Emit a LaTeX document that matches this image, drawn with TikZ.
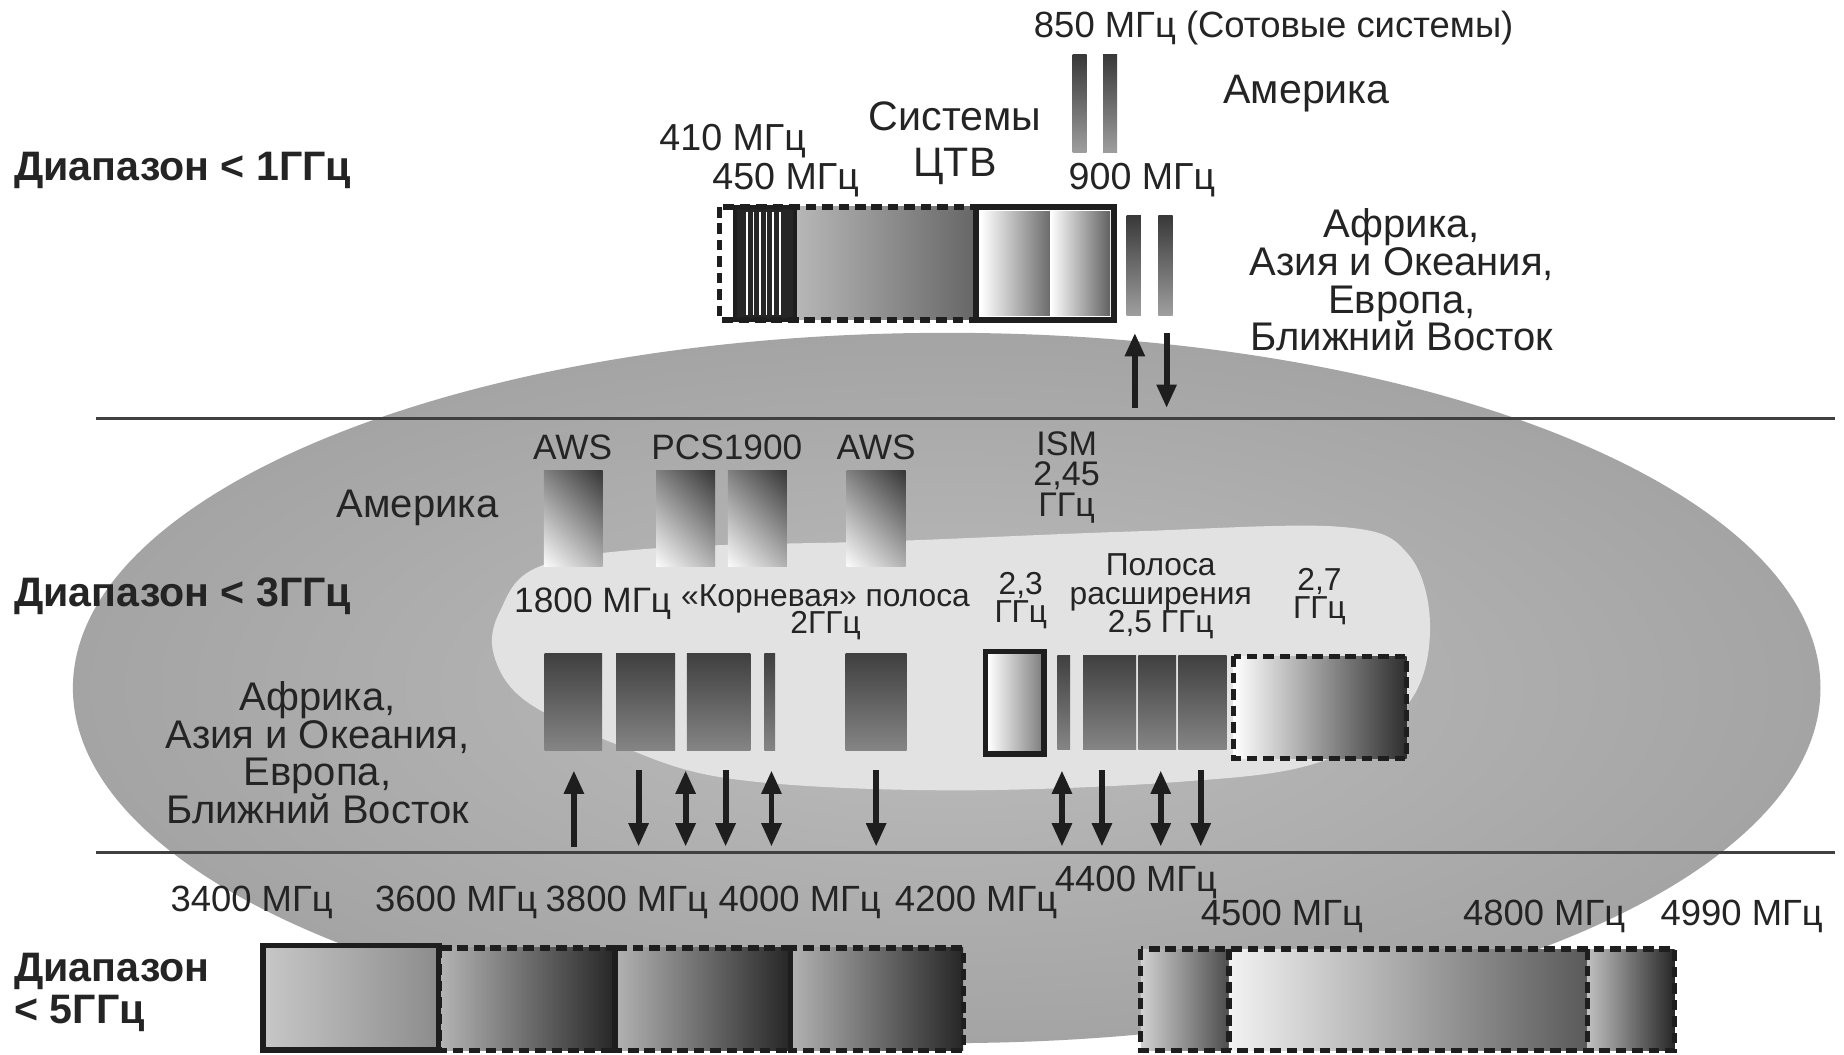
\documentclass[tikz,border=0pt]{standalone}
\usepackage{fontspec}
\setmainfont{Liberation Sans}
\usetikzlibrary{arrows.meta}
\definecolor{txt}{HTML}{242424}
\definecolor{ell}{HTML}{A4A4A4}
\definecolor{ellin}{HTML}{BDBDBD}
\definecolor{blob}{HTML}{E2E2E2}
\definecolor{edge}{HTML}{1E1E1E}
\newcommand\tightls{\lineskiplimit=-100pt\relax}
\tikzset{
  lbl/.style={text=txt, inner sep=0pt, align=center, font=\fontsize{34}{32}\selectfont\tightls},
  freq/.style={text=txt, inner sep=0pt, font=\fontsize{31}{31}\selectfont},
  mid/.style={text=txt, inner sep=0pt, align=center, font=\fontsize{30}{25}\selectfont\tightls},
  sml/.style={text=txt, inner sep=0pt, align=center, font=\fontsize{27}{24}\selectfont\tightls},
  ttl/.style={text=txt, inner sep=0pt, align=left, anchor=west, font=\fontsize{35}{36}\selectfont\bfseries\tightls},
  >={Triangle[width=16pt,length=20pt]},
  arr/.style={draw=edge, line width=5pt, ->},
  darr/.style={draw=edge, line width=5pt, <->},
  dbox/.style={draw=edge, line width=4.5pt, dash pattern=on 9pt off 5pt},
  sbox/.style={draw=edge, line width=5pt},
  afr/.style={top color=black!75, bottom color=black!48},
  vbar/.style={top color=black!78, bottom color=black!38},
  sep/.style={draw=black!75, line width=2.5pt},
}
\newcommand\amrbox[2]{%
  \begin{scope}
    \clip (#1-25,400) rectangle (#1+25,482);
    \shade[left color=white, right color=black!80, transform canvas={rotate around={45:(#1,#2)}}] (#1-48,#2-80) rectangle (#1+48,#2+80);
  \end{scope}}
\begin{document}
\begin{tikzpicture}[x=1pt,y=-1pt]
\useasboundingbox (0,0) rectangle (1568,897);
\fill[white] (0,0) rectangle (1568,897);

% background ellipse and light inner region
\shade[inner color=ellin, outer color=ell] (805,585) ellipse [x radius=743pt, y radius=302pt];
\fill[blob] plot[smooth cycle, tension=0.6] coordinates {(425,520) (458,482) (560,466) (760,460) (960,452) (1140,448) (1198,472) (1216,535) (1196,600) (1122,648) (1000,665) (800,672) (620,662) (522,632) (447,596) (420,557)};

% separating lines
\coordinate (l1a) at (82,356); \coordinate (l1b) at (1560,356);
\coordinate (l2a) at (82,725); \coordinate (l2b) at (1560,725);
\draw[sep] (l1a) -- (l1b);
\draw[sep] (l2a) -- (l2b);

% ===== < 1 GHz =====
\node[ttl] (t1) at (12,145) {Диапазон < 1ГГц};
\node[lbl, font=\fontsize{32}{32}\selectfont] (f410) at (623,120) {410 МГц};
\node[lbl, font=\fontsize{32}{32}\selectfont] (f450) at (668,153) {450 МГц};
\node[lbl, font=\fontsize{35}{39}\selectfont] (ctv) at (812,122) {Системы\\ЦТВ};
\node[freq] (f850) at (1083,24) {850 МГц (Сотовые системы)};
\node[lbl, font=\fontsize{35}{35}\selectfont] (am1) at (1111,80) {Америка};
\node[lbl, font=\fontsize{32}{32}\selectfont] (f900) at (971,153) {900 МГц};
\node[lbl] (af1) at (1192,238) {Африка,\\Азия и Океания,\\Европа,\\Ближний Восток};

\shade[vbar] (912,46) rectangle (924,130);
\shade[vbar] (938,46) rectangle (950,130);
\shade[vbar] (958,183) rectangle (970,268);
\shade[vbar] (985,183) rectangle (997,268);

% top box
\shade[left color=black!28, right color=black!60] (676,176) rectangle (830,272);
\fill[black!85] (625,176) rectangle (676,272);
\foreach \s in {635,640.6,646.2,651.8,657.4,663} \draw[white, line width=1.4pt] (\s,180) -- (\s,268);
\draw[edge, line width=3pt] (625,176) rectangle (676,272);
\draw[dbox] (612,176) rectangle (830,272);
\shade[left color=white, right color=black!58] (834,180) rectangle (893,268);
\shade[left color=white, right color=black!62] (893,180) rectangle (944,268);
\draw[sbox] (830,176) rectangle (947,272);

\coordinate (ua) at (965,347); \coordinate (ub) at (965,283);
\coordinate (da) at (992,283); \coordinate (db) at (992,347);
\draw[arr] (ua) -- (ub);
\draw[arr] (da) -- (db);

% ===== < 3 GHz =====
\node[ttl] (t3) at (12,507) {Диапазон < 3ГГц};
\node[lbl] (am2) at (355,432) {Америка};
\node[lbl] (af2) at (270,640) {Африка,\\Азия и Океания,\\Европа,\\Ближний Восток};

\node[mid] (aws1) at (487,380) {AWS};
\node[mid] (pcs) at (618,380) {PCS1900};
\node[mid] (aws2) at (745,380) {AWS};
\node[mid, font=\fontsize{29}{26}\selectfont\tightls] (ism) at (907,406) {ISM\\2,45\\ГГц};

\amrbox{487.5}{441}
\amrbox{583}{441}
\amrbox{644}{441}
\amrbox{745}{441}

\node[mid] (f1800) at (504,513) {1800 МГц};
\node[sml] (kor) at (702,509) {«Корневая» полоса};
\node[sml] (g2) at (702,532) {2ГГц};
\node[sml] (g23) at (868,511) {2,3\\ГГц};
\node[sml] (g25) at (987,507) {Полоса\\расширения\\2,5 ГГц};
\node[sml] (g27) at (1122,507) {2,7\\ГГц};

\shade[afr] (463,556) rectangle (512,638);
\shade[afr] (524,556) rectangle (574,638);
\shade[afr] (584,556) rectangle (638,638);
\shade[afr] (650,556) rectangle (659,638);
\shade[afr] (719,556) rectangle (771,638);

\shade[left color=white, right color=black!50] (840,556) rectangle (886,639);
\draw[sbox] (838,554) rectangle (888,641);
\shade[afr] (899,557) rectangle (910,637);
\shade[afr] (921,557) rectangle (966,637);
\shade[afr] (968,557) rectangle (1000,637);
\shade[afr] (1002,557) rectangle (1043,637);
\shade[left color=white, right color=black!82] (1049,558) rectangle (1196,645);
\draw[dbox] (1049,558) rectangle (1196,645);

\foreach \x [count=\i] in {488} {
  \coordinate (us\i) at (\x,720); \coordinate (ue\i) at (\x,655);
  \draw[arr] (us\i) -- (ue\i);
}
\foreach \x [count=\i] in {543,617,745,937,1021} {
  \coordinate (ds\i) at (\x,655); \coordinate (de\i) at (\x,720);
  \draw[arr] (ds\i) -- (de\i);
}
\foreach \x [count=\i] in {583,656,903,987} {
  \coordinate (bs\i) at (\x,655); \coordinate (be\i) at (\x,720);
  \draw[darr] (bs\i) -- (be\i);
}

% ===== < 5 GHz =====
\node[ttl] (t5) at (12,844) {Диапазон\\< 5ГГц};
\node[freq] (f3400) at (214,767) {3400 МГц};
\node[freq] (f3600) at (388,767) {3600 МГц};
\node[freq] (f3800) at (533,767) {3800 МГц};
\node[freq] (f4000) at (680,767) {4000 МГц};
\node[freq] (f4200) at (830,767) {4200 МГц};
\node[freq] (f4400) at (966,750) {4400 МГц};
\node[freq] (f4500) at (1090,779) {4500 МГц};
\node[freq] (f4800) at (1313,779) {4800 МГц};
\node[freq] (f4990) at (1481,779) {4990 МГц};

\shade[left color=black!22, right color=black!45] (224,804) rectangle (373,893);
\draw[sbox] (224,804) rectangle (373,893);
\shade[left color=black!30, right color=black!85] (375,806) rectangle (523,893);
\shade[left color=black!30, right color=black!85] (523,806) rectangle (672,893);
\shade[left color=black!30, right color=black!85] (672,806) rectangle (819,893);
\draw[dbox] (374,806) rectangle (523,893);
\draw[dbox] (523,806) rectangle (672,893);
\draw[dbox] (672,806) rectangle (819,893);

\shade[left color=black!18, right color=black!70] (970,807) rectangle (1045,893);
\shade[left color=black!5, right color=black!65] (1045,807) rectangle (1350,893);
\shade[left color=black!25, right color=black!85] (1350,807) rectangle (1424,893);
\draw[dbox] (970,807) rectangle (1424,893);
\draw[dbox] (1045,807) -- (1045,893);
\draw[dbox] (1350,807) -- (1350,893);
\end{tikzpicture}
\end{document}
